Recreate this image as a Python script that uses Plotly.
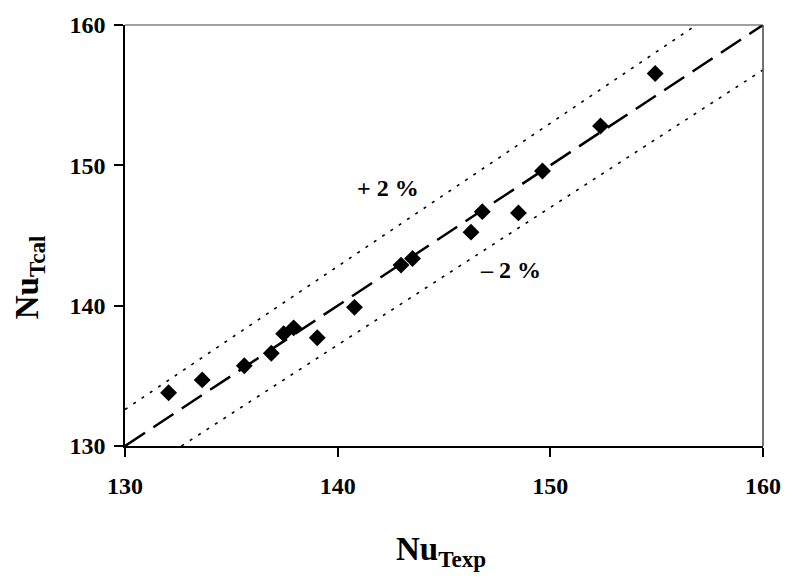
import plotly.graph_objects as go

# Data
nu_exp = [132.05, 133.63, 135.61, 136.88, 137.46, 137.93, 139.04, 140.79,
          142.98, 143.52, 146.27, 146.80, 148.50, 149.63, 152.36, 154.93]
nu_cal = [133.79, 134.71, 135.72, 136.61, 138.00, 138.42, 137.71, 139.88,
          142.89, 143.36, 145.24, 146.70, 146.61, 149.60, 152.80, 156.54]

axis_min, axis_max = 130, 160
tick_vals = [130, 140, 150, 160]
band = 0.02  # +/- 2 %

# reference lines (clipped to the axis box)
x_eq = [axis_min, axis_max]
y_eq = [axis_min, axis_max]
x_up = [axis_min, axis_max / (1 + band)]
y_up = [axis_min * (1 + band), axis_max]
x_lo = [axis_min / (1 - band), axis_max]
y_lo = [axis_min, axis_max * (1 - band)]

font_family = "Liberation Serif, Times New Roman, serif"

fig = go.Figure()
fig.add_trace(go.Scatter(x=x_up, y=y_up, mode="lines",
                         line=dict(color="black", width=1.6, dash="3px,7px"),
                         hoverinfo="skip"))
fig.add_trace(go.Scatter(x=x_lo, y=y_lo, mode="lines",
                         line=dict(color="black", width=1.6, dash="3px,7px"),
                         hoverinfo="skip"))
fig.add_trace(go.Scatter(x=x_eq, y=y_eq, mode="lines",
                         line=dict(color="black", width=2.5, dash="24px,10px"),
                         hoverinfo="skip"))
fig.add_trace(go.Scatter(x=nu_exp, y=nu_cal, mode="markers",
                         marker=dict(symbol="diamond", size=13, color="black")))

axis_common = dict(range=[axis_min, axis_max], tickvals=tick_vals,
                   showgrid=False, zeroline=False, showline=True,
                   linecolor="black", linewidth=1.5, ticks="outside",
                   ticklen=9, tickwidth=1.5, tickcolor="black",
                   tickfont=dict(family=font_family, size=24, color="black",
                                 weight="bold"))

fig.update_layout(
    width=793, height=578,
    margin=dict(l=125, r=21, t=21, b=132),
    paper_bgcolor="white", plot_bgcolor="white",
    showlegend=False,
    font=dict(family=font_family, color="black"),
    xaxis=dict(**axis_common, ticklabelstandoff=8),
    yaxis=dict(**axis_common, ticklabelstandoff=4),
)

# top / right frame
fig.add_shape(type="line", xref="paper", yref="paper", x0=0, x1=1, y0=1, y1=1,
              line=dict(color="#444444", width=1.2))
fig.add_shape(type="line", xref="paper", yref="paper", x0=1, x1=1, y0=0, y1=1,
              line=dict(color="#444444", width=1.5))

label_font = dict(family=font_family, size=24, color="black", weight="bold")
fig.add_annotation(x=142.38, y=148.42, text="+ 2 %", showarrow=False,
                   font=label_font)
fig.add_annotation(x=148.13, y=142.56, text="– 2 %", showarrow=False,
                   font=label_font)

title_font = dict(family=font_family, size=33, color="black", weight="bold")
fig.add_annotation(xref="paper", yref="paper", x=0.496, y=-0.305,
                   text="Nu<sub>Texp</sub>", showarrow=False, font=title_font)
fig.add_annotation(xref="paper", yref="paper", x=-0.185, y=0.402,
                   text="Nu<sub>Tcal</sub>", showarrow=False, textangle=-90,
                   font=title_font)

fig.write_html("out.html")
